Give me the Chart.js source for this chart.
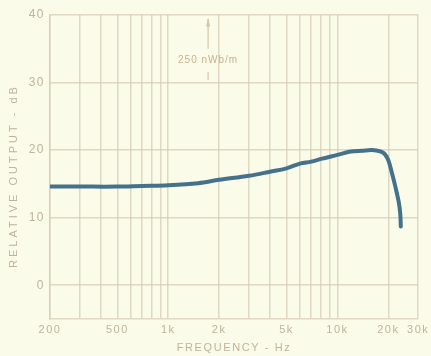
<!DOCTYPE html>
<html>
<head>
<meta charset="utf-8">
<script src="https://cdn.jsdelivr.net/npm/chart.js@4/dist/chart.umd.min.js"></script>
<style>
  html, body { margin: 0; padding: 0; background: #fbfbe9; }
  #wrap { position: relative; width: 431px; height: 356px; }
</style>
</head>
<body>
<div id="wrap"><canvas id="chart" width="431" height="356"></canvas></div>
<script>
// response curve
const freqs = [200, 300, 500, 700, 1000, 1500, 2000, 3000, 4000, 5000, 6000, 7000, 8000, 10000,
  12000, 14000, 16000, 18000, 19000, 20000, 21000, 22000, 23000, 23500, 23700];
const outputDb = [14.6, 14.6, 14.6, 14.7, 14.8, 15.1, 15.6, 16.2, 16.8, 17.3, 18.0, 18.3, 18.7, 19.3,
  19.8, 19.9, 20.0, 19.8, 19.45, 18.5, 16.6, 14.6, 12.4, 10.7, 8.7];

const freqGrid = [200, 300, 400, 500, 600, 700, 800, 900, 1000, 2000, 3000, 4000, 5000,
  6000, 7000, 8000, 9000, 10000, 20000, 30000];
const freqLabels = { 200: '200', 500: '500', 1000: '1k', 2000: '2k', 5000: '5k', 10000: '10k', 20000: '20k', 30000: '30k' };
const dbTicks = [0, 10, 20, 30, 40];

const xTitle = 'FREQUENCY - Hz';
const yTitle = 'RELATIVE OUTPUT - dB';
const note = { text: '250 nWb/m', freq: 1720 };

const textColor = '#bdb49c';
const gridColor = 'rgba(214, 204, 182, 0.75)';
const fontFamily = '"Liberation Sans", sans-serif';

const bgPlugin = {
  id: 'bg',
  beforeDraw(chart) {
    const ctx = chart.ctx;
    ctx.fillStyle = '#fbfbe9';
    ctx.fillRect(0, 0, chart.width, chart.height);
    // the scanned lettering is widely spaced
    ctx.letterSpacing = '1.5px';
  }
};

const textPlugin = {
  id: 'texts',
  afterDatasetsDraw(chart) {
    const ctx = chart.ctx;
    const area = chart.chartArea;
    const x = chart.scales.x.getPixelForValue(note.freq);
    const y = chart.scales.y;
    ctx.save();
    // arrow marking the reference level
    ctx.strokeStyle = '#d9c4a6';
    ctx.fillStyle = '#d9c4a6';
    ctx.lineWidth = 1.2;
    ctx.beginPath();
    ctx.moveTo(x, y.getPixelForValue(39.4));
    ctx.lineTo(x, y.getPixelForValue(35.0));
    ctx.moveTo(x, y.getPixelForValue(31.6));
    ctx.lineTo(x, y.getPixelForValue(30.4));
    ctx.stroke();
    ctx.beginPath();
    ctx.moveTo(x, y.getPixelForValue(39.6));
    ctx.lineTo(x - 2, y.getPixelForValue(38.3));
    ctx.lineTo(x + 2, y.getPixelForValue(38.3));
    ctx.closePath();
    ctx.fill();

    ctx.letterSpacing = '1px';
    ctx.font = '10px ' + fontFamily;
    ctx.fillStyle = '#c9b08e';
    ctx.textAlign = 'center';
    ctx.textBaseline = 'middle';
    ctx.fillText(note.text, x, y.getPixelForValue(33.3));

    // axis titles
    ctx.fillStyle = textColor;
    ctx.font = '11px ' + fontFamily;
    ctx.letterSpacing = '1.6px';
    ctx.fillText(xTitle, (area.left + area.right) / 2, 348);
    ctx.letterSpacing = '3px';
    ctx.translate(14, 176);
    ctx.rotate(-Math.PI / 2);
    ctx.fillText(yTitle, 0, 0);
    ctx.restore();
  }
};

new Chart(document.getElementById('chart'), {
  type: 'line',
  data: {
    datasets: [{
      data: freqs.map((f, i) => ({ x: f, y: outputDb[i] })),
      borderColor: '#44718c',
      borderWidth: 4,
      pointRadius: 0,
      fill: false,
      tension: 0.35,
      borderCapStyle: 'round',
      borderJoinStyle: 'round'
    }]
  },
  options: {
    responsive: false,
    animation: false,
    layout: { padding: { left: 0, right: 8, top: 15, bottom: 0 } },
    plugins: {
      legend: { display: false },
      tooltip: { enabled: false }
    },
    scales: {
      x: {
        type: 'logarithmic',
        min: 200,
        max: 30000,
        afterBuildTicks: (scale) => { scale.ticks = freqGrid.map(v => ({ value: v })); },
        afterFit: (scale) => { scale.height = 37; },
        grid: { color: gridColor, lineWidth: 1.5, drawTicks: false },
        border: { color: gridColor, width: 1.5 },
        ticks: {
          autoSkip: false,
          maxRotation: 0,
          padding: 4,
          color: textColor,
          font: { family: fontFamily, size: 11 },
          callback: (v) => freqLabels[v] || ''
        }
      },
      y: {
        min: -5,
        max: 40,
        afterBuildTicks: (scale) => { scale.ticks = dbTicks.map(v => ({ value: v })); },
        afterFit: (scale) => { scale.width = 50; },
        grid: { color: gridColor, lineWidth: 1.5, drawTicks: false },
        border: { color: gridColor, width: 1.5 },
        ticks: {
          padding: 5,
          color: textColor,
          font: { family: fontFamily, size: 12 }
        }
      }
    }
  },
  plugins: [bgPlugin, textPlugin]
});
</script>
</body>
</html>
